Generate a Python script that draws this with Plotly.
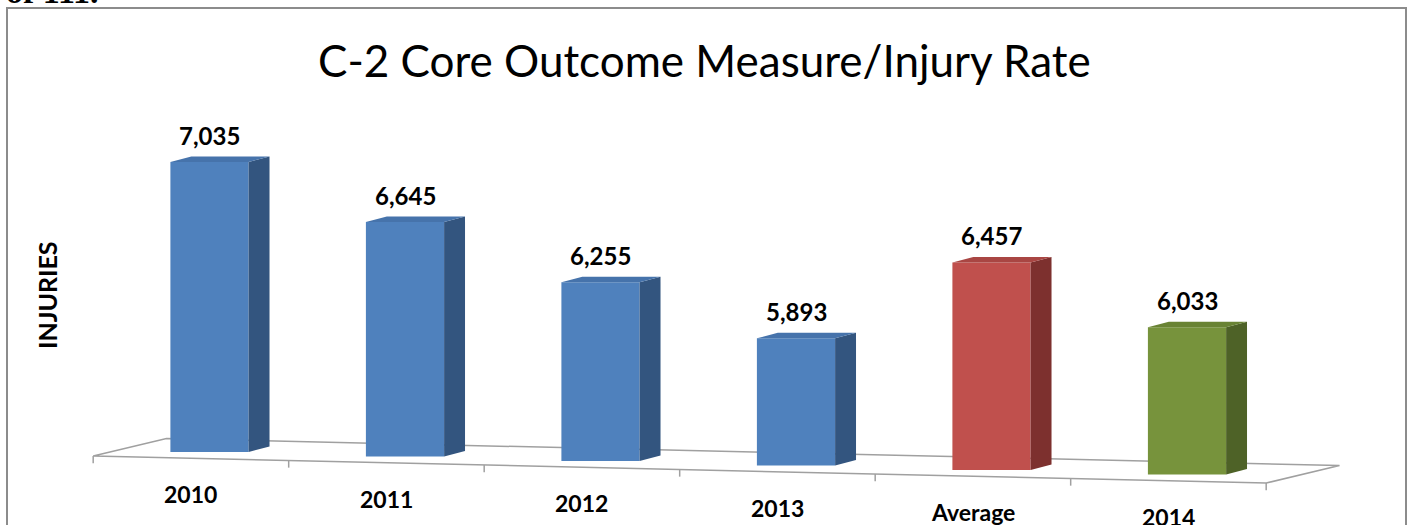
"""
C-2 Core Outcome Measure/Injury Rate — 仿 Excel 3D 直條圖
"""

import plotly.graph_objects as go

# ── 資料 ──────────────────────────────────────────────
categories = ["2010", "2011", "2012", "2013", "Average", "2014"]
injuries = [7035, 6645, 6255, 5893, 6457, 6033]
front_colors = ["#4F81BD", "#4F81BD", "#4F81BD", "#4F81BD", "#C0504D", "#77933C"]
top_colors = ["#4673AB", "#4673AB", "#4673AB", "#4673AB", "#A94643", "#698334"]
side_colors = ["#33557F", "#33557F", "#33557F", "#33557F", "#7D302E", "#4E6227"]

TITLE = "C-2 Core Outcome Measure/Injury Rate"
Y_TITLE = "INJURIES"

# ── 3D 外觀參數（y 單位 / 類別單位）──────────────────────
AXIS_MIN = 5000
TILT = 31.6          # 透視：每往右一個類別，地板下降量
BAR_W = 0.4
DEPTH_X = 0.107      # 柱體厚度（往右上）
DEPTH_Y = 38.6
FLOOR_FRONT = (-0.095, -47)
FLOOR_BACK = (0.28, 88)
FLOOR_COLOR = "#A0A0A0"

W, H = 1408, 525
X_RANGE = [-1.0716, 6.1304]
Y_RANGE = [4487.7, 8171.9]

n = len(categories)
xs = list(range(n))
bases = [AXIS_MIN - TILT * i for i in xs]
tops = [v - TILT * i for i, v in zip(xs, injuries)]

fig = go.Figure()

# 正面
fig.add_trace(go.Bar(
    x=xs,
    y=[t - b for t, b in zip(tops, bases)],
    base=bases,
    width=BAR_W,
    marker=dict(color=front_colors, line=dict(width=0)),
    customdata=injuries,
    hovertemplate="%{customdata:,}<extra></extra>",
))

# 側面與頂面
for i in xs:
    xl, xr = i - BAR_W / 2, i + BAR_W / 2
    b, t = bases[i], tops[i]
    fig.add_trace(go.Scatter(
        x=[xr, xr + DEPTH_X, xr + DEPTH_X, xr, xr],
        y=[b, b + DEPTH_Y, t + DEPTH_Y, t, b],
        mode="lines", fill="toself", fillcolor=side_colors[i],
        line=dict(width=0), hoverinfo="skip",
    ))
    fig.add_trace(go.Scatter(
        x=[xl, xr, xr + DEPTH_X, xl + DEPTH_X, xl],
        y=[t, t, t + DEPTH_Y, t + DEPTH_Y, t],
        mode="lines", fill="toself", fillcolor=top_colors[i],
        line=dict(width=0), hoverinfo="skip",
    ))


def floor_y(x, dy):
    return AXIS_MIN + dy - TILT * x


# ── 地板（透視平行四邊形）+ 刻度 ─────────────────────────
fx0, fx1 = -0.5 + FLOOR_FRONT[0], n - 0.5 + FLOOR_FRONT[0]
bx0, bx1 = -0.5 + FLOOR_BACK[0], n - 0.5 + FLOOR_BACK[0]
corners = [
    (fx0, floor_y(fx0, FLOOR_FRONT[1])),
    (fx1, floor_y(fx1, FLOOR_FRONT[1])),
    (bx1, floor_y(bx1, FLOOR_BACK[1])),
    (bx0, floor_y(bx0, FLOOR_BACK[1])),
]
path = "M " + " L ".join(f"{x},{y}" for x, y in corners) + " Z"
fig.add_shape(type="path", path=path, xref="x", yref="y", layer="below",
              line=dict(color=FLOOR_COLOR, width=1.5))
for k in range(n + 1):
    tx = k - 0.5 + FLOOR_FRONT[0]
    ty = floor_y(tx, FLOOR_FRONT[1])
    fig.add_shape(type="line", xref="x", yref="y", layer="below",
                  x0=tx, x1=tx, y0=ty, y1=ty - 50,
                  line=dict(color=FLOOR_COLOR, width=1.5))

# ── 數值標籤 / 類別標籤 ─────────────────────────────────
for i in xs:
    fig.add_annotation(
        x=i, y=tops[i], text=f"{injuries[i]:,}", showarrow=False,
        yanchor="middle", yshift=27,
        font=dict(family="Lato", size=24, color="black", weight="bold"),
    )
    cx = i + FLOOR_FRONT[0]
    fig.add_annotation(
        x=cx, y=floor_y(cx, FLOOR_FRONT[1]), text=categories[i], showarrow=False,
        yanchor="middle", yshift=-36,
        font=dict(family="Lato", size=23, color="black", weight="bold"),
    )

# 標題與 Y 軸標題
fig.add_annotation(
    xref="paper", yref="paper", x=704 / W, y=1 - 60 / H, text=TITLE,
    showarrow=False, xanchor="center", yanchor="middle",
    font=dict(family="Lato", size=44, color="black"),
)
fig.add_annotation(
    xref="paper", yref="paper", x=47 / W, y=1 - 295 / H, text=Y_TITLE,
    showarrow=False, textangle=-90, xanchor="center", yanchor="middle",
    font=dict(family="Lato", size=25, color="black", weight="bold"),
)

# 上方被裁切的內文
fig.add_annotation(
    xref="paper", yref="paper", x=4 / W, y=1 - 12 / H, text="of 111.",
    showarrow=False, xanchor="left", yanchor="bottom",
    font=dict(family="Liberation Serif", size=34, color="black", weight="bold"),
)

# 外框
fig.add_shape(type="rect", xref="paper", yref="paper",
              x0=7 / W, x1=1406 / W, y0=-0.2, y1=1 - 8 / H,
              line=dict(color="#8C8C8C", width=2))

fig.update_layout(
    width=W, height=H,
    margin=dict(l=0, r=0, t=0, b=0),
    paper_bgcolor="white", plot_bgcolor="white",
    showlegend=False,
    xaxis=dict(range=X_RANGE, visible=False, fixedrange=True),
    yaxis=dict(range=Y_RANGE, visible=False, fixedrange=True),
)

fig.write_html(
    "out.html",
    config={"displayModeBar": False},
    post_script="document.body.style.margin='0';",
)
